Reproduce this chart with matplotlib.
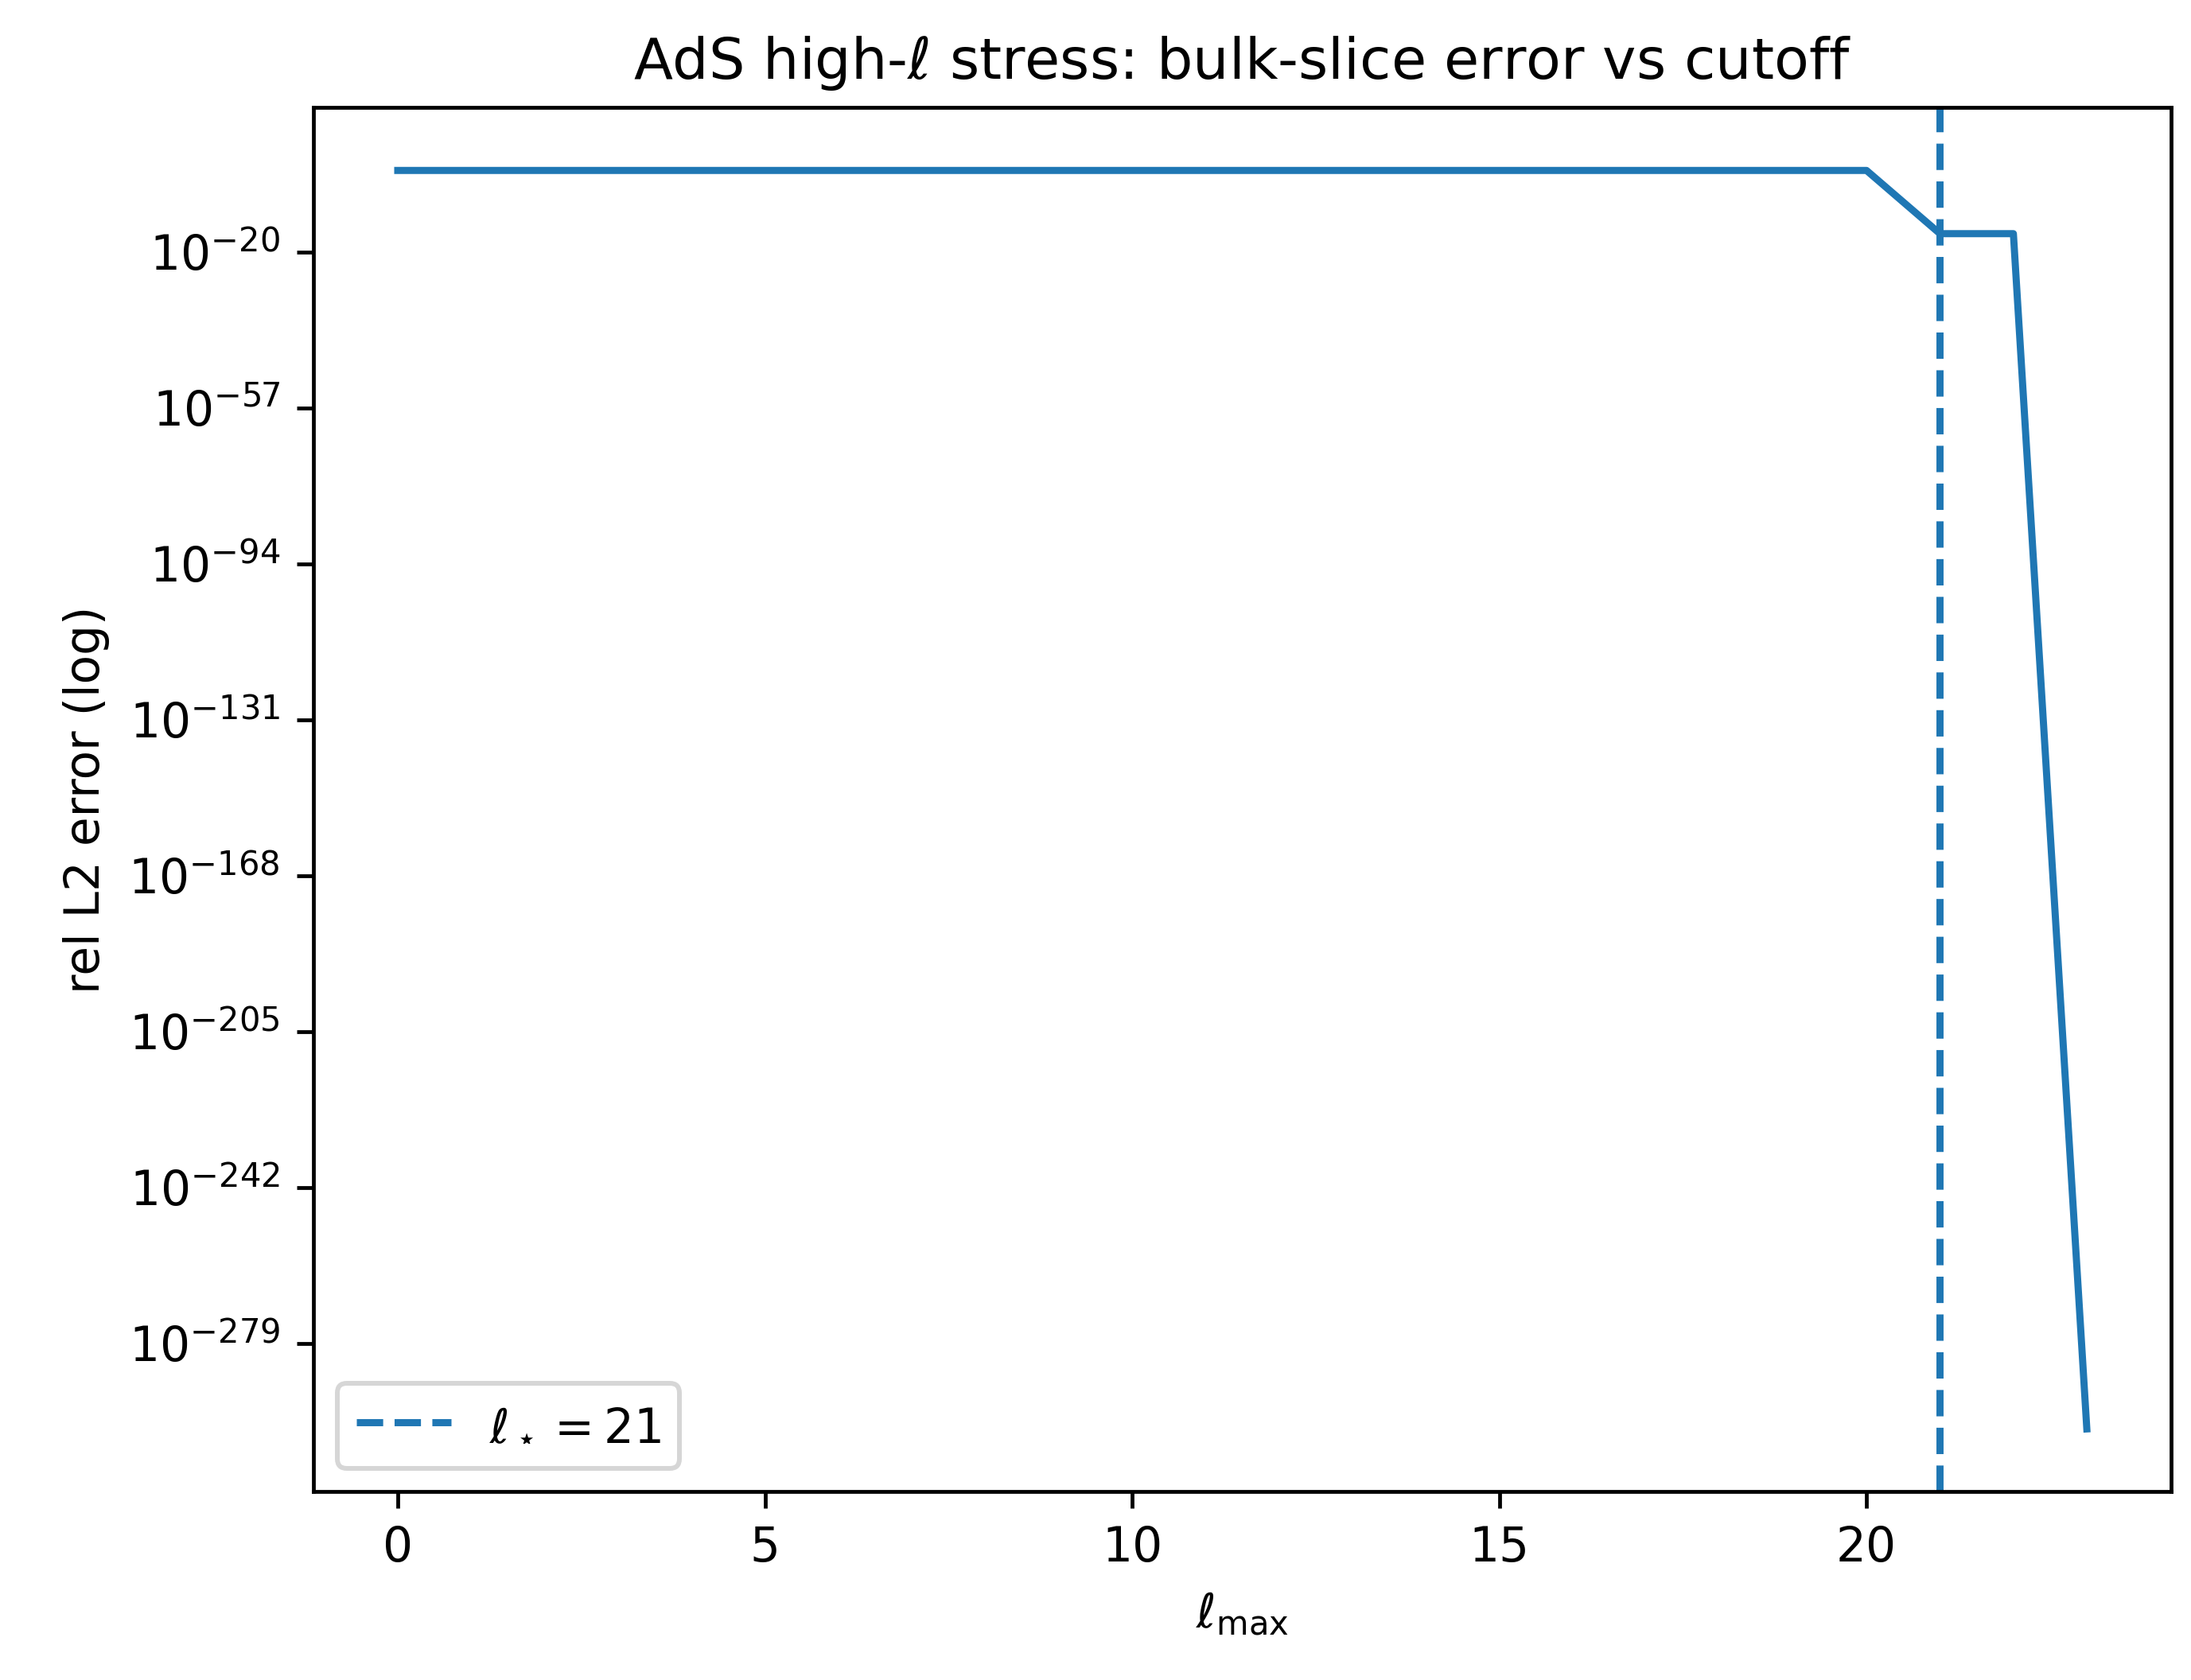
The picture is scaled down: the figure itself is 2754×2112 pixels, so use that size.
import matplotlib
matplotlib.use("Agg")
import matplotlib.pyplot as plt
import numpy as np
from matplotlib.ticker import FixedLocator, LogFormatterSciNotation, NullLocator

lmax = list(range(0, 24))
err = [0.2] * 21 + [2e-16, 2e-16, 5e-300]
ell_star = 21
yticks_exp = [-20, -57, -94, -131, -168, -205, -242, -279]

DPI = 430
fig = plt.figure(figsize=(2754 / DPI, 2112 / DPI), dpi=DPI)
ax = fig.add_axes([0.143, 0.112, 0.848, 0.824])
ax.plot(lmax, err, color="C0", lw=1.5)
ax.axvline(ell_star, color="C0", ls="--", lw=1.5, label=r"$\ell_\star = 21$")
ax.set_yscale("log")
ax.yaxis.set_major_locator(FixedLocator([10.0**e for e in yticks_exp]))
ax.yaxis.set_major_formatter(LogFormatterSciNotation())
ax.yaxis.set_minor_locator(NullLocator())
ax.set_xticks([0, 5, 10, 15, 20])
ax.set_xlabel(r"$\ell_{\max}$")
ax.set_ylabel("rel L2 error (log)")
ax.set_title(r"AdS high-$\ell$ stress: bulk-slice error vs cutoff")
ax.legend(loc="lower left")
fig.savefig("out.png", dpi=DPI)
